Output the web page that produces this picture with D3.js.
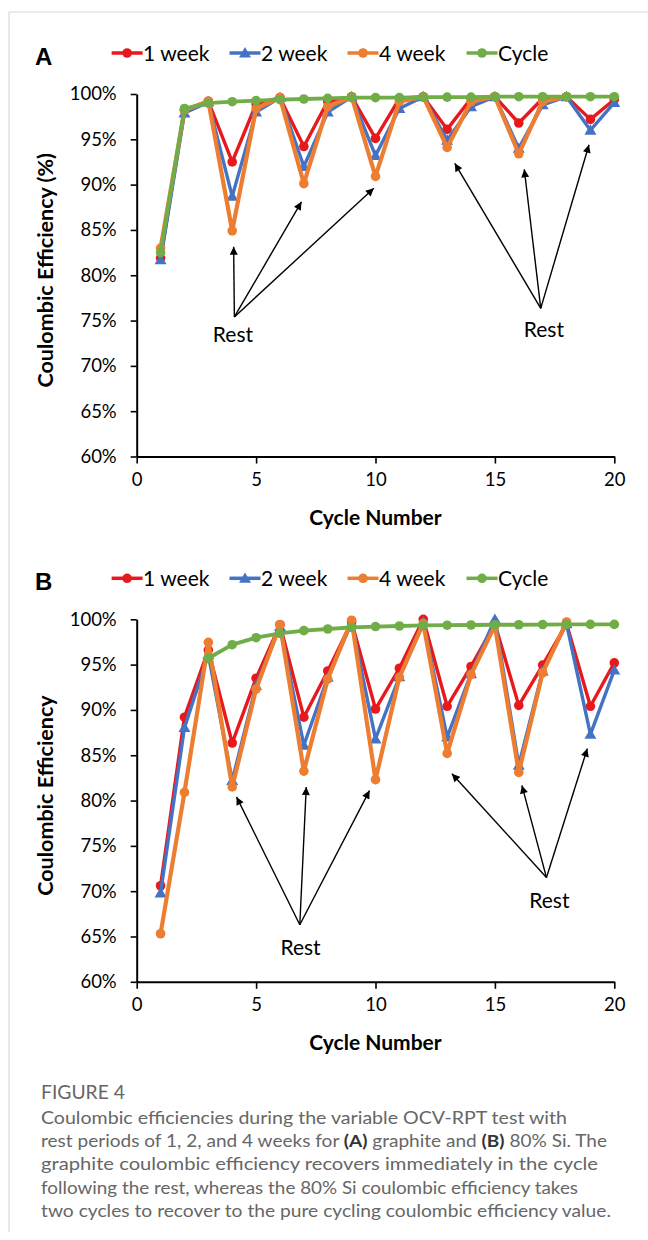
<!DOCTYPE html>
<html>
<head>
<meta charset="utf-8">
<script src="https://cdn.jsdelivr.net/npm/d3@7"></script>
<style>
    body { margin: 0; background: #fff; }
    text { font-family: Lato, "Open Sans", sans-serif; }
</style>
</head>
<body>
<svg id="SVG_CONTAINER" width="648" height="1240"></svg>
<script>
//cycle numbers on the x axis
const cycles = [1, 2, 3, 4, 5, 6, 7, 8, 9, 10, 11, 12, 13, 14, 15, 16, 17, 18, 19, 20];
const seriesNames = ["1 week", "2 week", "4 week", "Cycle"];
const yTicks = [60, 65, 70, 75, 80, 85, 90, 95, 100];
const xTicks = [0, 5, 10, 15, 20];

//(A) graphite, coulombic efficiency in %
const graphite1wk = [81.9, 98.2, 99.2, 92.5, 98.9, 99.6, 94.2, 99.2, 99.7, 95.1, 99.5, 99.7, 96.1, 99.5, 99.7, 96.8, 99.5, 99.7, 97.2, 99.4];
const graphite2wk = [81.7, 97.9, 99.1, 88.7, 98.0, 99.6, 92.0, 98.0, 99.7, 93.2, 98.4, 99.7, 94.9, 98.6, 99.7, 94.0, 98.8, 99.7, 96.0, 99.05];
const graphite4wk = [83.0, 98.2, 99.2, 84.9, 98.4, 99.6, 90.1, 98.6, 99.7, 90.9, 99.15, 99.7, 94.1, 99.15, 99.7, 93.4, 99.15, 99.7];
const graphiteCycle = [82.5, 98.4, 99.0, 99.15, 99.27, 99.37, 99.45, 99.52, 99.6, 99.6, 99.6, 99.65, 99.65, 99.65, 99.7, 99.7, 99.7, 99.7, 99.7, 99.7];

//(B) 80% Si, coulombic efficiency in %
const si1wk = [70.6, 89.2, 96.6, 86.35, 93.5, 99.4, 89.2, 94.3, 99.7, 90.1, 94.6, 100.0, 90.4, 94.8, 99.5, 90.5, 94.95, 99.5, 90.4, 95.2];
const si2wk = [69.8, 88.05, 96.1, 82.2, 92.7, 99.2, 86.1, 93.6, 99.6, 86.8, 93.65, 99.7, 87.0, 94.0, 100.0, 83.9, 94.3, 99.5, 87.3, 94.4];
const si4wk = [65.3, 80.9, 97.45, 81.5, 92.3, 99.4, 83.25, 93.4, 99.9, 82.3, 93.6, 99.55, 85.2, 93.9, 99.3, 83.1, 94.1, 99.7];
const siCycle = [null, null, 95.7, 97.2, 97.97, 98.45, 98.75, 98.93, 99.1, 99.2, 99.26, 99.33, 99.35, 99.37, 99.4, 99.4, 99.42, 99.43, 99.44, 99.44];

//"Rest" annotations in data units: [cycle, %]
const graphiteRest = [
    {label: [4.03, 73.4], from: [4.09, 75.4], to: [[4.06, 83.15], [6.9, 88.1], [9.93, 89.6]]},
    {label: [17.05, 74.0], from: [16.92, 76.35], to: [[13.32, 92.35], [16.23, 91.7], [18.94, 94.4]]}
];
const siRest = [
    {label: [6.86, 63.8], from: [6.83, 66.3], to: [[4.18, 80.4], [7.1, 81.5], [9.75, 81.1]]},
    {label: [17.28, 68.95], from: [17.16, 71.5], to: [[13.2, 82.96], [16.13, 81.67], [18.87, 85.73]]}
];

const COLOURS = ["#e8191c", "#4472c4", "#ed7d31", "#70ad47"];
const MARKERS = ["circle", "triangle", "circle", "circle"];

const PLOT = {LEFT: 136.7, RIGHT: 614.3, HEIGHT: 362.5};

let svg = d3.select("#SVG_CONTAINER");

//arrow head
svg.append("defs").append("marker")
    .attr("id", "arrow")
    .attr("viewBox", "0 0 10 10")
    .attr("refX", 10).attr("refY", 5)
    .attr("markerWidth", 9).attr("markerHeight", 8)
    .attr("markerUnits", "userSpaceOnUse")
    .attr("orient", "auto")
    .append("path")
    .attr("d", "M0,0 L10,5 L0,10 Z")
    .attr("fill", "#000");

drawPanel(94, "A", "Coulombic Efficiency (%)", [graphite1wk, graphite2wk, graphite4wk, graphiteCycle], graphiteRest);
drawPanel(619.3, "B", "Coulombic Efficiency", [si1wk, si2wk, si4wk, siCycle], siRest);
drawCaption();

function drawPanel(top, letter, yTitle, series, rest)
{
    let g = svg.append("g");

    //** SCALES *****************************************
    let xScale = d3.scaleLinear().domain([0, 20]).range([PLOT.LEFT, PLOT.RIGHT]);
    let yScale = d3.scaleLinear().domain([60, 100]).range([top + PLOT.HEIGHT, top]);

    //** AXES *****************************************
    let yAxis = g.append("g")
        .attr("transform", "translate(" + PLOT.LEFT + ",0)")
        .call(d3.axisLeft(yScale).tickValues(yTicks).tickFormat(d => d + "%")
            .tickSize(6).tickSizeOuter(0).tickPadding(14));

    let xAxis = g.append("g")
        .attr("transform", "translate(0," + (top + PLOT.HEIGHT) + ")")
        .call(d3.axisBottom(xScale).tickValues(xTicks)
            .tickSize(7).tickSizeOuter(0).tickPadding(9));

    [xAxis, yAxis].forEach(function (a) {
        a.select(".domain").attr("stroke", "#000").attr("stroke-width", 2);
        a.selectAll(".tick line").attr("stroke", "#000").attr("stroke-width", 1.6);
        a.selectAll(".tick text").attr("fill", "#000").style("font-size", "18.5px")
            .style("font-family", "Lato, sans-serif");
    });

    //axis titles
    g.append("text")
        .attr("x", (PLOT.LEFT + PLOT.RIGHT) / 2)
        .attr("y", top + PLOT.HEIGHT + 68)
        .attr("text-anchor", "middle")
        .style("font-size", "21px").style("font-weight", "bold")
        .text("Cycle Number");

    let yMid = top + PLOT.HEIGHT / 2 - 5;
    g.append("text")
        .attr("transform", "translate(53," + yMid + ") rotate(-90)")
        .attr("text-anchor", "middle")
        .style("font-size", "21.5px").style("font-weight", "bold")
        .text(yTitle);

    //panel letter
    g.append("text")
        .attr("x", 35).attr("y", top - 29)
        .style("font-family", "'Liberation Sans', Arial, sans-serif")
        .style("font-size", "24px").style("font-weight", "bold")
        .text(letter);

    //** LEGEND *****************************************
    let legendX = [111.6, 229.5, 347.5, 466.5];
    seriesNames.forEach(function (name, i) {
        let lg = g.append("g").attr("transform", "translate(" + legendX[i] + "," + (top - 41) + ")");
        lg.append("line").attr("x1", 0).attr("x2", 31)
            .attr("stroke", COLOURS[i]).attr("stroke-width", 3.5);
        drawMarker(lg, MARKERS[i], 15.5, 0, COLOURS[i]);
        lg.append("text").attr("x", 31.5).attr("y", 7.5)
            .style("font-size", "21px").attr("fill", "#000")
            .text(name);
    });

    //** ANNOTATIONS *****************************************
    rest.forEach(function (r) {
        r.to.forEach(function (t) {
            g.append("line")
                .attr("x1", xScale(r.from[0])).attr("y1", yScale(r.from[1]))
                .attr("x2", xScale(t[0])).attr("y2", yScale(t[1]))
                .attr("stroke", "#000").attr("stroke-width", 1.4)
                .attr("marker-end", "url(#arrow)");
        });
        g.append("text")
            .attr("x", xScale(r.label[0])).attr("y", yScale(r.label[1]))
            .attr("dy", "0.35em")
            .attr("text-anchor", "middle")
            .style("font-size", "21px")
            .text("Rest");
    });

    //** DATA *****************************************
    let widths = [3.4, 3.4, 4.2, 3.8];
    series.forEach(function (values, i) {
        let pts = values.map((v, k) => [cycles[k], v]).filter(p => p[1] !== null);
        let line = d3.line().x(p => xScale(p[0])).y(p => yScale(p[1]));
        g.append("path")
            .datum(pts)
            .attr("d", line)
            .attr("fill", "none")
            .attr("stroke", COLOURS[i])
            .attr("stroke-width", widths[i])
            .attr("stroke-linejoin", "round");
        pts.forEach(function (p) {
            drawMarker(g, MARKERS[i], xScale(p[0]), yScale(p[1]), COLOURS[i]);
        });
    });
}

function drawMarker(parent, type, x, y, colour)
{
    if (type === "triangle") {
        parent.append("path")
            .attr("d", d3.symbol(d3.symbolTriangle, 62)())
            .attr("transform", "translate(" + x + "," + (y + 1) + ")")
            .attr("fill", colour);
    } else {
        parent.append("circle")
            .attr("cx", x).attr("cy", y).attr("r", 4.8)
            .attr("fill", colour);
    }
}

function drawCaption()
{
    //frame lines
    svg.append("line").attr("x1", 9).attr("x2", 648).attr("y1", 12).attr("y2", 12)
        .attr("stroke", "#d9d9d9").attr("stroke-width", 1.2);
    svg.append("line").attr("x1", 9).attr("x2", 9).attr("y1", 12).attr("y2", 1232)
        .attr("stroke", "#d9d9d9").attr("stroke-width", 1.2);

    let cap = svg.append("g")
        .style("font-family", "'Open Sans', sans-serif")
        .attr("fill", "#666");

    cap.append("text").attr("x", 41).attr("y", 1099)
        .style("font-size", "19px")
        .attr("textLength", 84).attr("lengthAdjust", "spacingAndGlyphs")
        .text("FIGURE 4");

    let lines = [
        [["Coulombic efficiencies during the variable OCV-RPT test with", false]],
        [["rest periods of 1, 2, and 4 weeks for ", false], ["(A)", true], [" graphite and ", false],
         ["(B)", true], [" 80% Si. The", false]],
        [["graphite coulombic efficiency recovers immediately in the cycle", false]],
        [["following the rest, whereas the 80% Si coulombic efficiency takes", false]],
        [["two cycles to recover to the pure cycling coulombic efficiency value.", false]]
    ];
    let widthsPx = [526, 566, 557, 537, 570];
    lines.forEach(function (parts, i) {
        let t = cap.append("text")
            .attr("x", 41).attr("y", 1123.5 + i * 23.4)
            .style("font-size", "17.5px")
            .attr("textLength", widthsPx[i])
            .attr("lengthAdjust", "spacingAndGlyphs");
        parts.forEach(function (p) {
            t.append("tspan").style("font-weight", p[1] ? "bold" : "normal")
                .attr("fill", p[1] ? "#333" : null)
                .text(p[0]);
        });
    });
}
</script>
</body>
</html>
